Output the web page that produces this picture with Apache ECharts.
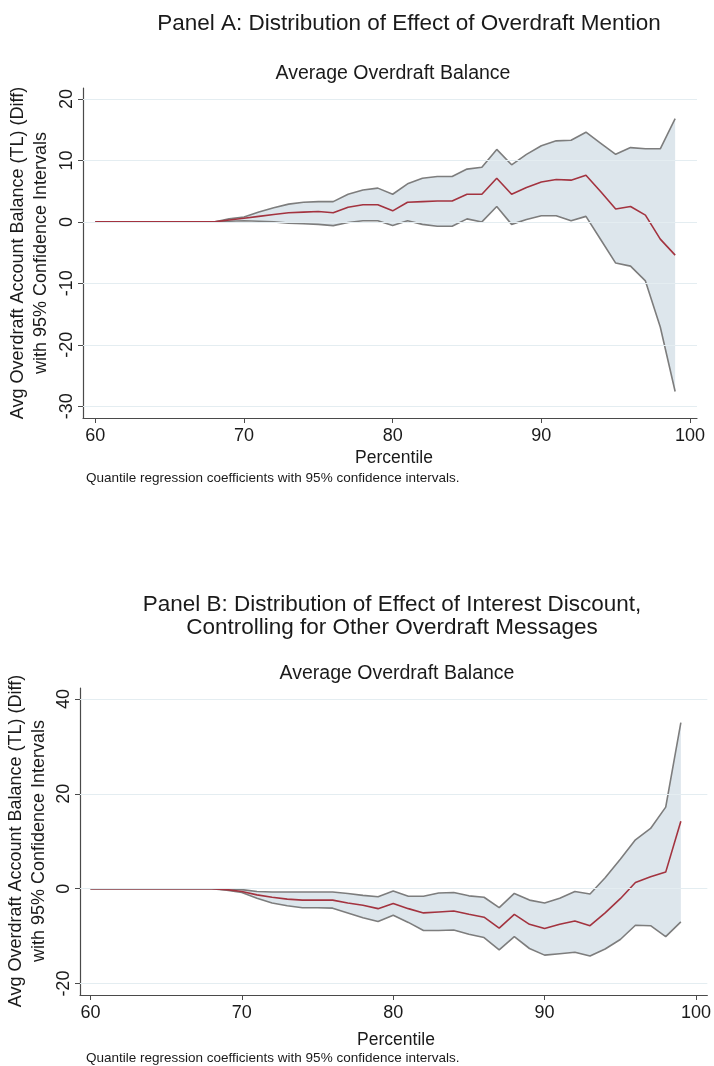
<!DOCTYPE html>
<html>
<head>
<meta charset="utf-8">
<script src="https://cdn.jsdelivr.net/npm/echarts@6/dist/echarts.min.js"></script>
<style>
html,body{margin:0;padding:0;background:#fff;}
#chart{width:714px;height:1066px;}
</style>
</head>
<body>
<div id="chart"></div>
<script>
// ---------- data ----------
const percentiles = [60,61,62,63,64,65,66,67,68,69,70,71,72,73,74,75,76,77,78,79,80,81,82,83,84,85,86,87,88,89,90,91,92,93,94,95,96,97,98,99];

// Panel A: Effect of Overdraft Mention
const estA   = [0,0,0,0,0,0,0,0,0, 0.3,0.6,0.9,1.2,1.5,1.6,1.7,1.5,2.4,2.8,2.8,1.8,3.2,3.3,3.4,3.4,4.5,4.5,7.1,4.5,5.6,6.5,6.9,6.8,7.6,4.9,2.1,2.5,1.1,-2.8,-5.4];
const upperA = [0,0,0,0,0,0,0,0,0, 0.5,0.8,1.6,2.3,2.9,3.2,3.3,3.3,4.5,5.2,5.5,4.5,6.2,7.1,7.4,7.4,8.6,8.9,11.8,9.3,11.0,12.4,13.2,13.3,14.6,12.8,11.0,12.1,11.9,11.9,16.8];
const lowerA = [0,0,0,0,0,0,0,0,0, 0.1,0.2,0.1,0.0,-0.2,-0.3,-0.4,-0.6,-0.1,0.2,0.2,-0.6,0.2,-0.4,-0.7,-0.7,0.5,0.0,2.5,-0.4,0.4,1.0,1.0,0.2,0.9,-2.9,-6.7,-7.2,-9.6,-17.1,-27.6];

// Panel B: Effect of Interest Discount
const estB   = [0,0,0,0,0,0,0,0,0, -0.2,-0.6,-1.3,-1.8,-2.2,-2.4,-2.4,-2.4,-3.0,-3.5,-4.2,-3.1,-4.2,-5.1,-4.9,-4.7,-5.4,-6.0,-8.3,-5.4,-7.5,-8.4,-7.5,-6.8,-7.8,-5.1,-2.1,1.3,2.5,3.5,14.2];
const upperB = [0,0,0,0,0,0,0,0,0, 0.0,-0.2,-0.6,-0.7,-0.7,-0.7,-0.7,-0.7,-1.0,-1.4,-1.7,-0.5,-1.6,-1.6,-0.9,-0.8,-1.5,-1.8,-4.0,-1.0,-2.4,-3.0,-2.0,-0.6,-1.1,2.3,6.2,10.3,12.7,17.2,35.0];
const lowerB = [0,0,0,0,0,0,0,0,0, -0.3,-0.8,-2.0,-3.0,-3.6,-4.0,-4.0,-4.1,-5.1,-6.1,-6.9,-5.6,-7.1,-8.8,-8.8,-8.7,-9.6,-10.3,-12.9,-10.1,-12.6,-14.0,-13.7,-13.4,-14.2,-12.7,-10.7,-7.7,-7.8,-10.1,-7.0];

// tick labels
const xTicks  = [60,70,80,90,100];
const yTicksA = [-30,-20,-10,0,10,20];
const yTicksB = [-20,0,20,40];

// text
const titleA = 'Panel A: Distribution of Effect of Overdraft Mention';
const titleB1 = 'Panel B: Distribution of Effect of Interest Discount,';
const titleB2 = 'Controlling for Other Overdraft Messages';
const subtitle = 'Average Overdraft Balance';
const yTitle = 'Avg Overdraft Account Balance (TL) (Diff)\nwith 95% Confidence Intervals';
const xTitle = 'Percentile';
const note = 'Quantile regression coefficients with 95% confidence intervals.';

// ---------- chart ----------
const FONT = '"Liberation Sans", Arial, Helvetica, sans-serif';
const TXT = '#1a1a1a';
const AXC = '#4a4a4a';
const GRIDC = '#e4edf1';
const BAND = '#dde6ec';
const EDGE = '#7d7d7d';
const EST = '#a3333f';

const pairs = (ys) => percentiles.map((p, i) => [p, ys[i]]);

function bandSeries(idx, up, lo) {
  return {
    type: 'custom', xAxisIndex: idx, yAxisIndex: idx, z: 2, silent: true,
    data: [[percentiles[0], 0]],
    renderItem: function (params, api) {
      const pts = [];
      for (let i = 0; i < percentiles.length; i++) pts.push(api.coord([percentiles[i], up[i]]));
      for (let i = percentiles.length - 1; i >= 0; i--) pts.push(api.coord([percentiles[i], lo[i]]));
      return { type: 'polygon', shape: { points: pts }, style: { fill: BAND, stroke: null } };
    }
  };
}
function lineSeries(idx, ys, color, z) {
  return {
    type: 'line', xAxisIndex: idx, yAxisIndex: idx, z: z, silent: true,
    data: pairs(ys), showSymbol: false, symbol: 'none',
    lineStyle: { color: color, width: 1.6 }
  };
}
function gridLines(idx, ticks) {
  return {
    type: 'line', xAxisIndex: idx, yAxisIndex: idx, z: 1, silent: true, data: [],
    markLine: {
      silent: true, symbol: ['none', 'none'], label: { show: false },
      lineStyle: { color: GRIDC, width: 1.2, type: 'solid' },
      animation: false,
      data: ticks.map(t => ({ yAxis: t }))
    }
  };
}
function xAxis(idx, min, max) {
  return {
    type: 'value', gridIndex: idx, min: min, max: max,
    axisLine: { show: true, onZero: false, lineStyle: { color: AXC, width: 1.2 } },
    axisTick: { show: true, length: 5, customValues: xTicks, lineStyle: { color: AXC } },
    axisLabel: { customValues: xTicks, color: TXT, fontSize: 18, fontFamily: FONT, margin: 9 },
    splitLine: { show: false }
  };
}
function yAxis(idx, min, max, ticks) {
  return {
    type: 'value', gridIndex: idx, min: min, max: max,
    axisLine: { show: true, onZero: false, lineStyle: { color: AXC, width: 1.2 } },
    axisTick: { show: true, length: 5, customValues: ticks, lineStyle: { color: AXC } },
    axisLabel: { customValues: ticks, rotate: 90, color: TXT, fontSize: 18, fontFamily: FONT, margin: 7 },
    splitLine: { show: false }
  };
}
function txt(text, x, y, size, align, rot) {
  return {
    type: 'text', x: x, y: y, rotation: rot || 0, silent: true,
    style: { text: text, fill: TXT, fontSize: size, fontFamily: FONT, align: align || 'center', verticalAlign: 'middle', lineHeight: Math.round(size * 1.28) }
  };
}

const chart = echarts.init(document.getElementById('chart'), null, { renderer: 'canvas' });
chart.setOption({
  animation: false,
  backgroundColor: '#ffffff',
  grid: [
    { left: 83, top: 88, width: 614, height: 330, containLabel: false },
    { left: 80, top: 688, width: 628, height: 307, containLabel: false }
  ],
  xAxis: [ xAxis(0, 59.17, 100.47), xAxis(1, 59.31, 100.75) ],
  yAxis: [ yAxis(0, -31.92, 21.8, yTicksA), yAxis(1, -22.4, 42.3, yTicksB) ],
  series: [
    gridLines(0, yTicksA),
    bandSeries(0, upperA, lowerA),
    lineSeries(0, upperA, EDGE, 3),
    lineSeries(0, lowerA, EDGE, 3),
    lineSeries(0, estA, EST, 4),
    gridLines(1, yTicksB),
    bandSeries(1, upperB, lowerB),
    lineSeries(1, upperB, EDGE, 3),
    lineSeries(1, lowerB, EDGE, 3),
    lineSeries(1, estB, EST, 4)
  ],
  graphic: [
    txt(titleA, 409, 24, 22.5),
    txt(subtitle, 393, 74, 19.5),
    txt(yTitle, 30, 253, 18, 'center', Math.PI / 2),
    txt(xTitle, 394, 458, 17.5),
    txt(note, 86, 478, 13.5, 'left'),
    txt(titleB1, 392, 605, 22.5),
    txt(titleB2, 392, 627.5, 22.5),
    txt(subtitle, 397, 674, 19.5),
    txt(yTitle, 28, 841, 18, 'center', Math.PI / 2),
    txt(xTitle, 396, 1040, 17.5),
    txt(note, 86, 1058, 13.5, 'left')
  ]
});
</script>
</body>
</html>
